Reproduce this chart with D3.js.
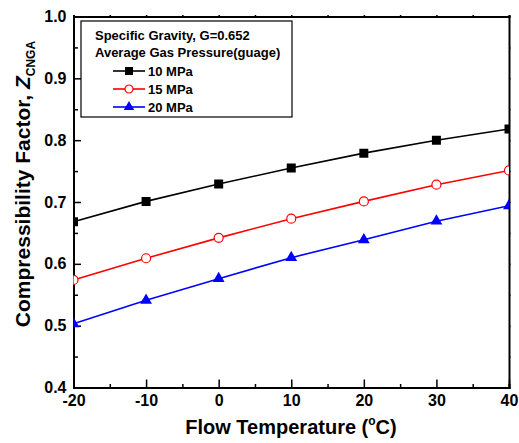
<!DOCTYPE html>
<html>
<head>
<meta charset="utf-8">
<script src="https://cdn.jsdelivr.net/npm/d3@7"></script>
<style>
  body { margin: 0; background: #fff; }
  svg text { font-family: "Liberation Sans", Arial, sans-serif; font-weight: bold; }
</style>
</head>
<body>
<div id="chart-area"></div>
<script>
// data
var temps = [-20, -10, 0, 10, 20, 30, 40];
var z10 = [0.668, 0.701, 0.729, 0.755, 0.779, 0.800, 0.818];
var z15 = [0.574, 0.609, 0.642, 0.673, 0.701, 0.728, 0.751];
var z20 = [0.503, 0.541, 0.576, 0.610, 0.639, 0.669, 0.694];
var seriesNames = ["10 MPa", "15 MPa", "20 MPa"];
var xTicks = [-20, -10, 0, 10, 20, 30, 40];
var yTicks = [0.4, 0.5, 0.6, 0.7, 0.8, 0.9, 1.0];

var series = [
  { name: seriesNames[0], values: z10, color: "#000000", marker: "square" },
  { name: seriesNames[1], values: z15, color: "#ff0000", marker: "circle" },
  { name: seriesNames[2], values: z20, color: "#0000ff", marker: "triangle" }
];

var margin = { left: 73.5, right: 10, top: 16.5, bottom: 55.5 };
var W = 519, H = 443;
var width = W - margin.left - margin.right,
    height = H - margin.top - margin.bottom;

var svg = d3.select("#chart-area").append("svg")
    .attr("width", W)
    .attr("height", H);

var g = svg.append("g")
    .attr("transform", "translate(" + margin.left + "," + margin.top + ")");

var x = d3.scaleLinear().domain([-20, 40]).range([0, width]);
var y = d3.scaleLinear().domain([0.4, 1.0]).range([height, 0]);

svg.append("clipPath").attr("id", "plot-clip")
  .append("rect").attr("width", width).attr("height", height);

// plain hyphen for negatives, like the original
var fmtX = function(d){ return String(d); };
var fmtY = function(d){ return d.toFixed(1); };

// bottom axis, ticks pointing in
var xAxis = g.append("g").attr("transform", "translate(0," + height + ")");
xAxis.call(d3.axisBottom(x).tickValues(d3.range(-15, 40, 10)).tickSize(-3.5).tickFormat(""));
xAxis.call(function(s){
  var a = s.append("g");
  a.call(d3.axisBottom(x).tickValues(xTicks).tickSize(-8).tickPadding(7).tickFormat(fmtX));
  a.select(".domain").remove();
});
xAxis.selectAll("text").attr("font-size", "16px").attr("fill", "#000")
  .style("font-family", "Liberation Sans, Arial, sans-serif").style("font-weight", "bold");

// left axis
var yAxis = g.append("g");
yAxis.call(d3.axisLeft(y).tickValues(d3.range(0.45, 1.0, 0.1)).tickSize(-4.5).tickFormat(""));
yAxis.call(function(s){
  var a = s.append("g");
  a.call(d3.axisLeft(y).tickValues(yTicks).tickSize(-7.5).tickPadding(7).tickFormat(fmtY));
  a.select(".domain").remove();
});
yAxis.selectAll("text").attr("font-size", "16px").attr("fill", "#000")
  .style("font-family", "Liberation Sans, Arial, sans-serif").style("font-weight", "bold");

// top and right frame with small outward ticks
var topAxis = g.append("g");
topAxis.call(d3.axisTop(x).tickValues(d3.range(-20, 41, 5)).tickSize(1.5).tickFormat(""));
var rightAxis = g.append("g").attr("transform", "translate(" + width + ",0)");
rightAxis.call(d3.axisRight(y).tickValues(d3.range(0.4, 1.01, 0.05)).tickSize(1.5).tickFormat(""));

g.selectAll(".domain").attr("stroke-width", 2).attr("stroke", "#000");
g.selectAll(".tick line").attr("stroke-width", 1.5).attr("stroke", "#000");

// lines + markers
var line = d3.line()
  .x(function(d, i){ return x(temps[i]); })
  .y(function(d){ return y(d); });

var plot = g.append("g").attr("clip-path", "url(#plot-clip)");

function drawMarker(sel, type, color, size) {
  if (type === "square") {
    sel.append("path").attr("d", d3.symbol(d3.symbolSquare, size * size)())
      .attr("fill", color);
  } else if (type === "circle") {
    sel.append("circle").attr("r", size / 2)
      .attr("fill", "#fff").attr("stroke", color).attr("stroke-width", 1.2);
  } else {
    sel.append("path").attr("d", d3.symbol(d3.symbolTriangle, size * size * 0.75)())
      .attr("fill", color);
  }
}

series.forEach(function(s){
  plot.append("path")
    .datum(s.values)
    .attr("fill", "none")
    .attr("stroke", s.color)
    .attr("stroke-width", 1.6)
    .attr("d", line);

  plot.selectAll(null)
    .data(s.values)
    .enter().append("g")
      .attr("transform", function(d, i){ return "translate(" + x(temps[i]) + "," + y(d) + ")"; })
      .each(function(){ drawMarker(d3.select(this), s.marker, s.color, 9); });
});

// legend
var legend = svg.append("g").attr("transform", "translate(81,21)");
legend.append("rect")
  .attr("width", 211).attr("height", 96)
  .attr("fill", "#fff").attr("stroke", "#000").attr("stroke-width", 1.2);
legend.append("text").attr("x", 14).attr("y", 19).attr("font-size", "13px")
  .text("Specific Gravity, G=0.652");
legend.append("text").attr("x", 14).attr("y", 36).attr("font-size", "13px")
  .text("Average Gas Pressure(guage)");

series.forEach(function(s, i){
  var row = legend.append("g").attr("transform", "translate(0," + (50 + i * 18) + ")");
  row.append("line").attr("x1", 32).attr("x2", 64)
    .attr("stroke", s.color).attr("stroke-width", 1.6);
  var m = row.append("g").attr("transform", "translate(48,0)");
  drawMarker(m, s.marker, s.color, 8);
  row.append("text").attr("x", 67).attr("y", 5).attr("font-size", "13px").text(s.name);
});

// axis labels
svg.append("text")
  .attr("x", 291).attr("y", 434)
  .attr("text-anchor", "middle")
  .attr("font-size", "20px")
  .call(function(t){
    t.append("tspan").text("Flow Temperature (");
    t.append("tspan").attr("font-size", "12px").attr("dy", -9).text("o");
    t.append("tspan").attr("dy", 9).text("C)");
  });

svg.append("text")
  .attr("transform", "translate(30,184) rotate(-90)")
  .attr("text-anchor", "middle")
  .attr("font-size", "21px")
  .call(function(t){
    t.append("tspan").text("Compressibility Factor, ");
    t.append("tspan").attr("font-style", "italic").text("Z");
    t.append("tspan").attr("font-size", "12px").attr("dy", 5).text("CNGA");
  });
</script>
</body>
</html>
